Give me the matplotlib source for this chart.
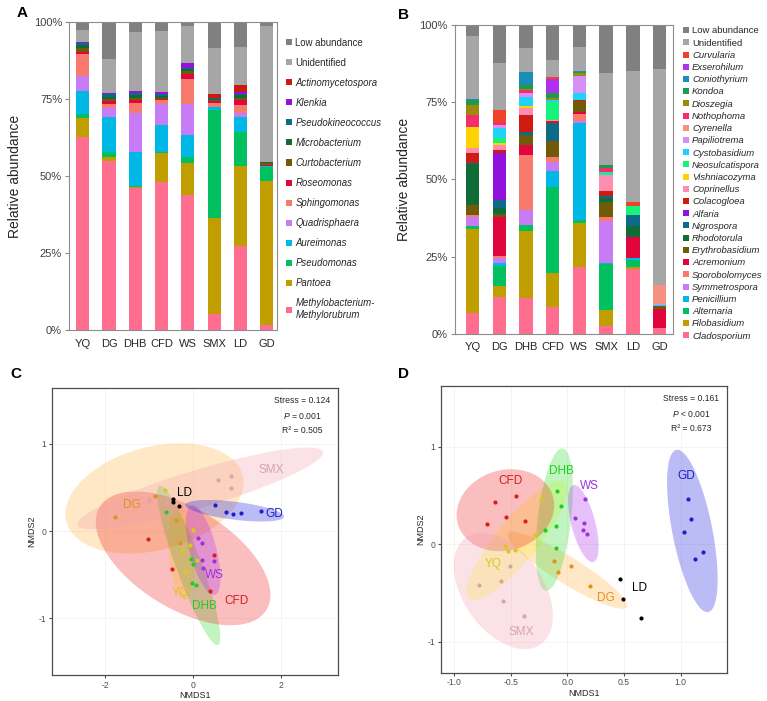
import numpy as np
import matplotlib
matplotlib.use('Agg')
import matplotlib.pyplot as plt
from matplotlib.patches import Patch

plt.rcParams['font.family'] = ['Liberation Sans', 'DejaVu Sans']
plt.rcParams['mathtext.fontset'] = 'custom'
plt.rcParams['mathtext.rm'] = 'Liberation Sans'
plt.rcParams['mathtext.it'] = 'Liberation Sans:italic'

sites = ['YQ', 'DG', 'DHB', 'CFD', 'WS', 'SMX', 'LD', 'GD']

# ---- panel A: bacteria, stacked bottom -> top, % per site
bac_names = ['Methylobacterium-\nMethylorubrum', 'Pantoea', 'Pseudomonas', 'Aureimonas',
             'Quadrisphaera', 'Sphingomonas', 'Roseomonas', 'Curtobacterium',
             'Microbacterium', 'Pseudokineococcus', 'Klenkia', 'Actinomycetospora',
             'Unidentified', 'Low abundance']
bac_values = [
    [62.9, 55.1, 46.2, 48.3, 43.8, 5.4, 27.4, 1.8],
    [5.9, 1.3, 0.3, 9.2, 10.6, 31.0, 25.9, 46.8],
    [1.3, 1.4, 0.5, 0.4, 1.9, 35.0, 11.0, 4.4],
    [7.5, 11.5, 10.8, 8.9, 7.2, 1.2, 4.9, 0.3],
    [4.9, 2.9, 12.8, 6.6, 10.0, 0.0, 1.3, 0.0],
    [7.1, 1.4, 3.3, 1.4, 8.1, 1.3, 2.8, 0.2],
    [0.8, 1.0, 0.8, 0.3, 1.6, 0.6, 1.5, 0.2],
    [1.3, 0.5, 0.7, 0.4, 0.9, 0.3, 0.7, 0.6],
    [0.9, 0.8, 1.0, 0.7, 0.8, 0.3, 0.9, 0.4],
    [0.8, 0.8, 0.8, 0.7, 0.2, 0.2, 0.3, 0.1],
    [0.4, 0.4, 0.6, 0.5, 1.6, 0.2, 0.7, 0.0],
    [0.0, 0.0, 0.0, 0.0, 0.0, 1.4, 2.4, 0.0],
    [3.6, 11.1, 19.0, 19.9, 12.2, 14.9, 12.3, 44.1],
    [2.6, 11.8, 3.2, 2.7, 1.1, 8.2, 7.9, 1.1],
]
bac_colors = ['#FF6D8F', '#C09E00', '#00C060', '#00B8E6', '#C77CF5', '#F87A6C', '#E0063C',
              '#705B0A', '#0F6C37', '#0E6B88', '#9111DD', '#CC1A10', '#A6A6A6', '#808080']

# ---- panel B: fungi
fun_names = ['Cladosporium', 'Filobasidium', 'Alternaria', 'Penicillium', 'Symmetrospora',
             'Sporobolomyces', 'Acremonium', 'Erythrobasidium', 'Rhodotorula', 'Nigrospora',
             'Alfaria', 'Colacogloea', 'Coprinellus', 'Vishniacozyma', 'Neosulcatispora',
             'Cystobasidium', 'Papiliotrema', 'Cyrenella', 'Nothophoma', 'Dioszegia',
             'Kondoa', 'Coniothyrium', 'Exserohilum', 'Curvularia', 'Unidentified',
             'Low abundance']
fun_values = [
    [6.8, 12.0, 11.7, 8.9, 21.6, 2.5, 21.1, 1.9],
    [27.2, 3.4, 21.5, 10.8, 14.4, 5.4, 0.5, 0.0],
    [0.8, 6.7, 2.0, 27.8, 1.0, 14.7, 2.4, 0.0],
    [0.0, 0.9, 0.0, 5.1, 31.2, 0.3, 0.6, 0.0],
    [3.0, 1.6, 4.8, 2.9, 0.8, 13.8, 0.0, 0.0],
    [0.8, 0.5, 18.0, 1.7, 2.2, 1.3, 0.0, 0.0],
    [0.0, 12.6, 3.0, 0.0, 0.7, 0.0, 6.7, 6.2],
    [3.2, 1.1, 3.4, 5.4, 3.6, 4.6, 0.0, 1.1],
    [13.2, 1.9, 0.0, 0.0, 0.0, 1.4, 3.5, 0.0],
    [0.3, 2.7, 0.8, 5.6, 0.0, 0.5, 3.6, 0.0],
    [0.0, 15.3, 0.0, 0.0, 0.0, 0.0, 0.0, 0.0],
    [3.3, 0.9, 5.7, 0.6, 0.3, 1.8, 0.0, 0.0],
    [1.6, 1.4, 2.1, 0.5, 0.0, 5.0, 0.0, 0.0],
    [6.7, 0.8, 0.8, 0.0, 0.0, 0.2, 0.0, 0.0],
    [0.0, 1.6, 0.0, 5.9, 0.0, 0.5, 3.1, 0.0],
    [0.0, 3.4, 3.0, 0.6, 2.2, 0.4, 0.0, 0.2],
    [0.0, 0.8, 1.1, 0.0, 5.4, 0.0, 0.0, 0.3],
    [0.0, 0.0, 0.0, 0.0, 0.0, 0.0, 0.0, 6.2],
    [3.9, 0.8, 1.1, 0.0, 0.0, 1.2, 0.0, 0.0],
    [3.2, 0.0, 0.3, 0.7, 1.1, 0.0, 0.0, 0.0],
    [1.7, 0.0, 1.3, 1.6, 0.3, 1.2, 0.0, 0.0],
    [0.3, 0.0, 4.3, 0.0, 0.3, 0.0, 0.0, 0.0],
    [0.0, 0.0, 0.0, 4.4, 0.0, 0.0, 0.0, 0.0],
    [0.0, 4.0, 0.0, 0.5, 0.0, 0.0, 1.3, 0.0],
    [20.4, 15.4, 7.6, 5.7, 7.6, 29.6, 42.4, 69.9],
    [3.6, 12.2, 7.5, 11.3, 7.3, 15.6, 14.8, 14.2],
]
fun_colors = ['#FF6D8F', '#C09E00', '#00C060', '#00B8E6', '#C77CF5', '#F87A6C', '#E0063C',
              '#705B0A', '#0F6C37', '#0E6B88', '#9111DD', '#D01B10', '#FF8DB2', '#FFD300',
              '#17F27A', '#1FD2F7', '#D68FF5', '#F7917F', '#F42E68', '#9C8A0E', '#1E9A4C',
              '#1B8EB8', '#B030F0', '#F2412A', '#A6A6A6', '#808080']

# ---- NMDS, groups in site order
grp_pt_col = ['#D9C91A', '#E39020', '#22CC22', '#D91E1E', '#9933DD', '#D9A3B0', '#000000', '#1E1ECC']
grp_fill = ['#FFFF33', '#FFB340', '#33DD33', '#F02828', '#B030F0', '#F0A0B0', None, '#2020E0']

c_x = [[-0.646, 0.0, -0.259, -0.061, 0.099, -0.152],
       [-1.772, -0.867, -0.38, -0.289],
       [-0.616, -0.053, 0.008, -0.023, 0.068],
       [-1.019, -0.479, 0.395, 0.479],
       [0.114, 0.213, 0.213, 0.228, 0.471],
       [0.57, 0.859, 0.859, -0.996, -0.578],
       [-0.449, -0.449, -0.312],
       [0.51, 0.76, 0.92, 1.095, 1.544]]
c_y = [[0.473, 0.015, -0.225, -0.164, -0.328, -0.454],
       [0.16, 0.397, 0.126, -0.134],
       [0.214, -0.324, -0.378, -0.599, -0.615],
       [-0.095, -0.439, -0.683, -0.271],
       [-0.08, -0.137, -0.332, -0.427, -0.344],
       [0.58, 0.626, 0.496, 0.359, 0.321],
       [0.37, 0.336, 0.29],
       [0.294, 0.221, 0.195, 0.21, 0.225]]
# ellipse: centre x, centre y, semi-axis vector u, conjugate vector v
c_ell = [(-0.266, -0.256, 0.076, -0.534, 0.289, 0.011),
         (-0.882, 0.374, 2.01, 0.267, 0.30, -0.572),
         (-0.099, -0.393, 0.669, -0.912, 0.271, 0.05),
         (-0.228, -0.313, 1.90, -0.592, -0.60, -0.487),
         (0.228, -0.218, 0.266, -0.515, 0.294, 0.038),
         (0.167, 0.489, 2.80, 0.42, 0.124, -0.208),
         None,
         (0.95, 0.233, 1.125, -0.069, -0.025, -0.102)]
c_lab = [(-0.297, -0.706), (-1.392, 0.294), (0.251, -0.855), (0.989, -0.805),
         (0.494, -0.508), (1.787, 0.698), (-0.205, 0.439), (1.848, 0.198)]

d_x = [[-0.235, -0.291, -0.55, -0.521, -0.459],
       [-0.118, -0.085, 0.032, 0.197],
       [-0.091, -0.056, -0.103, -0.194, -0.103],
       [-0.641, -0.45, -0.538, -0.712, -0.376],
       [0.153, 0.068, 0.147, 0.141, 0.176],
       [-0.506, -0.776, -0.588, -0.571, -0.379],
       [0.468, 0.494, 0.65],
       [1.065, 1.094, 1.032, 1.194, 1.124]]
d_y = [[0.463, 0.099, -0.014, -0.065, -0.058],
       [-0.172, -0.285, -0.223, -0.425],
       [0.549, 0.391, 0.189, 0.151, -0.041],
       [0.439, 0.491, 0.278, 0.213, 0.237],
       [0.467, 0.274, 0.22, 0.151, 0.11],
       [-0.22, -0.415, -0.374, -0.587, -0.734],
       [-0.36, -0.563, -0.758],
       [0.47, 0.257, 0.127, -0.082, -0.151]]
d_ell = [(-0.444, 0.041, 0.424, 0.60, 0.141, -0.135),
         (0.0, -0.268, 0.524, -0.377, -0.062, -0.117),
         (-0.115, 0.254, 0.074, 0.731, 0.146, -0.02),
         (-0.547, 0.35, 0.43, 0.03, 0.02, 0.42),
         (0.141, 0.213, 0.088, -0.395, 0.102, 0.031),
         (-0.565, -0.48, 0.329, -0.549, -0.288, -0.237),
         None,
         (1.103, 0.137, 0.141, -0.834, 0.173, 0.04)]
d_lab = [(-0.659, -0.199), (0.341, -0.552), (-0.056, 0.751), (-0.506, 0.648),
         (0.194, 0.597), (-0.409, -0.905), (0.641, -0.453), (1.047, 0.700)]

c_stats = ['Stress = 0.124', '$\\it{P}$ = 0.001', 'R² = 0.505']
d_stats = ['Stress = 0.161', '$\\it{P}$ < 0.001', 'R² = 0.673']

fig = plt.figure(figsize=(7.67, 7.01), dpi=100)


def stacked(ax, values, colors, names, leg_x, leg_y, leg_space, leg_size, ylab_x):
    x = np.arange(len(sites))
    bottom = np.zeros(len(sites))
    handles = []
    for vals, col, name in zip(values, colors, names):
        ax.bar(x, vals, 0.5, bottom=bottom, color=col, linewidth=0)
        bottom += np.array(vals)
        handles.append(Patch(facecolor=col, edgecolor='none', label=name))
    ax.set_ylim(0, 100)
    ax.set_yticks([0, 25, 50, 75, 100])
    ax.set_yticklabels(['0%', '25%', '50%', '75%', '100%'], fontsize=8, color='#404040')
    ax.set_xticks(x)
    ax.set_xticklabels(sites, fontsize=8, color='#262626')
    ax.tick_params(axis='x', length=0, pad=6)
    ax.tick_params(axis='y', length=3, color='#8C8C8C', pad=2)
    for s in ax.spines.values():
        s.set_color('#8C8C8C')
        s.set_linewidth(0.8)
    ax.set_ylabel('Relative abundance', fontsize=10, color='#262626')
    ax.yaxis.set_label_coords(ylab_x, 0.5)
    leg = ax.legend(handles=handles[::-1], loc='upper left', bbox_to_anchor=(leg_x, leg_y),
                    frameon=False, fontsize=leg_size, handlelength=0.6, handleheight=0.6,
                    handletextpad=0.35, labelspacing=leg_space, borderpad=0, borderaxespad=0)
    for t in leg.get_texts():
        t.set_color('#262626')
        if t.get_text() not in ('Unidentified', 'Low abundance'):
            t.set_fontstyle('italic')


axA = fig.add_axes([0.090, 0.529, 0.271, 0.439])
axA.set_xlim(-0.52, 7.39)
stacked(axA, bac_values, bac_colors, bac_names, 1.045, 0.951, 1.05, 6.9, -0.227)

axB = fig.add_axes([0.593, 0.5235, 0.284, 0.441])
axB.set_xlim(-0.66, 7.49)
stacked(axB, fun_values, fun_colors, fun_names, 1.048, 0.995, 0.34, 6.8, -0.199)


def nmds(ax, xs, ys, ells, labs, stats, xlim, ylim, xticks, xtl, yticks):
    t = np.linspace(0, 2 * np.pi, 200)
    for e, fc in zip(ells, grp_fill):
        if e is None:
            continue
        cx, cy, ux, uy, vx, vy = e
        ax.fill(cx + ux * np.cos(t) + vx * np.sin(t), cy + uy * np.cos(t) + vy * np.sin(t),
                color=fc, alpha=0.3, linewidth=0, zorder=2)
    for gx, gy, col in zip(xs, ys, grp_pt_col):
        ax.scatter(gx, gy, s=9, color=col, zorder=3, linewidths=0)
    for (lx, ly), col, name in zip(labs, grp_pt_col, sites):
        ax.text(lx, ly, name, color=col, fontsize=8.5, ha='center', va='center', zorder=4)
    for i, s in enumerate(stats):
        ax.text(0.875, 0.955 - i * 0.052, s, transform=ax.transAxes, fontsize=6.2,
                ha='center', va='center', color='#262626')
    ax.set_xlim(*xlim)
    ax.set_ylim(*ylim)
    ax.set_xticks(xticks)
    ax.set_xticklabels(xtl)
    ax.set_yticks(yticks)
    ax.set_yticklabels([str(v) for v in yticks])
    ax.tick_params(labelsize=6.2, labelcolor='#4D4D4D', length=2.5, color='#4D4D4D', pad=1.5)
    ax.grid(True, color='#F2F2F2', linewidth=0.6, zorder=0)
    ax.set_axisbelow(True)
    for s in ax.spines.values():
        s.set_color('#4D4D4D')
        s.set_linewidth(0.9)
    ax.set_xlabel('NMDS1', fontsize=6.5, color='#262626', labelpad=1)
    ax.set_ylabel('NMDS2', fontsize=6.5, color='#262626', labelpad=2)


axC = fig.add_axes([0.0678, 0.0371, 0.373, 0.4094])
nmds(axC, c_x, c_y, c_ell, c_lab, c_stats, (-3.22, 3.31), (-1.65, 1.64),
     [-2, 0, 2], ['-2', '0', '2'], [-1, 0, 1])

axD = fig.add_axes([0.575, 0.0404, 0.373, 0.4094])
nmds(axD, d_x, d_y, d_ell, d_lab, d_stats, (-1.115, 1.41), (-1.32, 1.63),
     [-1.0, -0.5, 0.0, 0.5, 1.0], ['-1.0', '-0.5', '0.0', '0.5', '1.0'], [-1, 0, 1])

for lab, (px, py) in zip('ABCD', [(0.022, 0.982), (0.519, 0.978), (0.014, 0.466), (0.519, 0.466)]):
    fig.text(px, py, lab, fontsize=11, fontweight='bold', ha='left', va='center')

fig.savefig('out.png', dpi=100)
